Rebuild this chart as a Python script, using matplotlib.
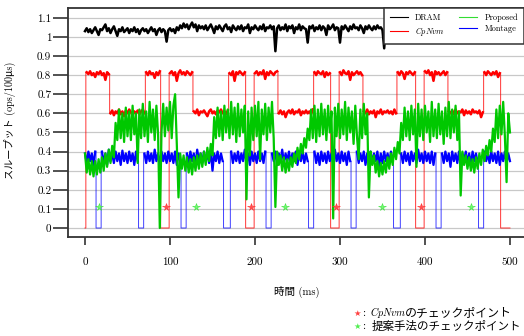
import numpy as np
import matplotlib
matplotlib.use("Agg")
import matplotlib.pyplot as plt
from matplotlib.lines import Line2D

plt.rcParams['font.family'] = ['cmr10', 'Noto Sans CJK JP', 'DejaVu Sans']
plt.rcParams['mathtext.fontset'] = 'cm'
plt.rcParams['axes.formatter.use_mathtext'] = True

# temps (ms), un échantillon toutes les 2 ms
temps = np.arange(0, 501, 2)

dram = [
    1.03, 1.045, 1.025, 1.04, 1.02, 1.035, 1.05, 1.03, 1.01, 1.04,
    1.035, 1.05, 1.065, 1.03, 1.045, 1.02, 1.04, 1.055, 1.03, 1.005,
    1.04, 1.03, 1.05, 1.025, 1.035, 1.045, 1.02, 1.04, 1.03, 1.05,
    1.025, 1.04, 1.015, 1.035, 1.045, 1.03, 1.04, 1.02, 1.035, 1.05,
    1.03, 1.04, 1.01, 1.035, 1.045, 1.025, 1.04, 1.03, 0.975, 1.035,
    1.045, 1.03, 1.04, 1.02, 1.05, 1.035, 1.06, 1.045, 1.07, 1.05,
    1.065, 1.04, 1.06, 1.075, 1.05, 1.065, 1.03, 1.06, 1.045, 1.055,
    1.04, 1.06, 1.035, 1.05, 1.065, 1.045, 1.02, 1.055, 1.04, 1.06,
    1.045, 1.03, 1.055, 1.065, 1.04, 1.05, 1.025, 1.06, 1.045, 1.035,
    1.055, 1.04, 1.06, 1.03, 1.05, 1.045, 1.065, 1.02, 1.05, 1.04,
    1.06, 1.045, 1.035, 1.055, 1.04, 1.065, 1.03, 1.05, 1.045, 1.06,
    1.04, 1.055, 0.925, 1.045, 1.06, 1.035, 1.05, 1.04, 1.065, 1.03,
    1.055, 1.045, 1.06, 1.02, 1.05, 1.04, 1.065, 1.035, 1.055, 1.045,
    1.04, 0.97, 1.055, 1.045, 1.06, 1.03, 1.05, 1.04, 1.06, 1.035,
    1.055, 1.045, 1.01, 1.06, 1.04, 1.05, 1.065, 1.035, 1.05, 1.045,
    0.97, 1.055, 1.04, 1.06, 1.045, 1.03, 1.055, 1.04, 1.065, 1.045,
    1.05, 1.035, 1.06, 1.045, 1.02, 1.055, 1.04, 1.06, 1.045, 1.035,
    1.055, 1.04, 1.06, 1.045, 1.05, 1.035, 0.94, 1.05, 1.04, 1.055,
    1.045, 1.06, 1.035, 1.05, 1.04, 1.065, 1.03, 1.055, 1.045, 1.06,
    1.04, 1.05, 1.035, 1.06, 1.045, 1.02, 1.055, 1.04, 1.06, 1.045,
    1.035, 1.055, 1.045, 1.06, 1.03, 1.05, 1.04, 1.065, 1.045, 1.035,
    1.055, 1.04, 1.06, 1.045, 1.05, 1.03, 1.055, 1.04, 1.06, 1.045,
    1.05, 1.035, 1.06, 1.045, 1.025, 1.055, 1.04, 1.06, 1.045, 1.05,
    1.04, 1.06, 1.035, 1.05, 1.045, 1.065, 1.03, 1.055, 1.04, 1.05,
    1.045, 1.06, 1.035, 1.055, 1.04, 1.05, 1.065, 1.035, 1.05, 1.045,
    1.04,
]

cpnvm = [
    0.0, 0.815, 0.805, 0.82, 0.80, 0.81, 0.79, 0.815, 0.805, 0.82,
    0.80, 0.81, 0.775, 0.815, 0.805, 0.60, 0.615, 0.59, 0.61, 0.60,
    0.62, 0.595, 0.61, 0.585, 0.615, 0.60, 0.62, 0.605, 0.59, 0.61,
    0.60, 0.615, 0.595, 0.61, 0.62, 0.60, 0.815, 0.80, 0.82, 0.805,
    0.81, 0.785, 0.815, 0.80, 0.82, 0.0, 0.0, 0.0, 0.0, 0.0,
    0.81, 0.82, 0.80, 0.815, 0.77, 0.81, 0.825, 0.805, 0.815, 0.80,
    0.82, 0.81, 0.80, 0.815, 0.61, 0.60, 0.62, 0.59, 0.61, 0.605,
    0.615, 0.60, 0.585, 0.61, 0.62, 0.60, 0.61, 0.595, 0.615, 0.605,
    0.62, 0.60, 0.61, 0.595, 0.615, 0.81, 0.80, 0.82, 0.77, 0.815,
    0.805, 0.82, 0.81, 0.80, 0.815, 0.0, 0.0, 0.0, 0.0, 0.0,
    0.81, 0.82, 0.80, 0.815, 0.805, 0.825, 0.78, 0.815, 0.80, 0.82,
    0.81, 0.80, 0.815, 0.82, 0.60, 0.615, 0.595, 0.61, 0.58, 0.605,
    0.615, 0.60, 0.62, 0.595, 0.61, 0.605, 0.62, 0.59, 0.61, 0.60,
    0.615, 0.60, 0.61, 0.595, 0.62, 0.815, 0.80, 0.82, 0.81, 0.805,
    0.82, 0.79, 0.815, 0.80, 0.81, 0.0, 0.0, 0.0, 0.0, 0.0,
    0.815, 0.80, 0.825, 0.81, 0.805, 0.82, 0.775, 0.815, 0.80, 0.81,
    0.82, 0.805, 0.815, 0.80, 0.61, 0.60, 0.62, 0.595, 0.61, 0.60,
    0.615, 0.58, 0.61, 0.60, 0.62, 0.595, 0.61, 0.605, 0.615, 0.60,
    0.61, 0.595, 0.62, 0.60, 0.815, 0.80, 0.82, 0.81, 0.78, 0.815,
    0.805, 0.82, 0.81, 0.80, 0.815, 0.0, 0.0, 0.0, 0.0, 0.0,
    0.82, 0.81, 0.825, 0.80, 0.815, 0.77, 0.82, 0.805, 0.815, 0.80,
    0.81, 0.82, 0.80, 0.815, 0.61, 0.60, 0.615, 0.595, 0.62, 0.60,
    0.61, 0.605, 0.62, 0.59, 0.615, 0.60, 0.61, 0.595, 0.62, 0.605,
    0.61, 0.60, 0.615, 0.58, 0.605, 0.815, 0.80, 0.82, 0.81, 0.80,
    0.815, 0.805, 0.82, 0.79, 0.81, 0.0, 0.0, 0.0, 0.0, 0.0,
    0.0,
]
# instants des sauts (ms) de CpNvm
cpnvm_sauts = [1, 29, 71, 89, 99, 127, 169, 189, 199, 227, 269, 289, 299,
               327, 367, 389, 399, 427, 469, 489]

proposed = [
    0.39, 0.29, 0.36, 0.28, 0.35, 0.27, 0.35, 0.28, 0.36, 0.29,
    0.37, 0.30, 0.39, 0.32, 0.41, 0.34, 0.43, 0.37, 0.55, 0.46,
    0.62, 0.47, 0.60, 0.45, 0.63, 0.48, 0.61, 0.46, 0.64, 0.49,
    0.60, 0.34, 0.62, 0.47, 0.65, 0.48, 0.61, 0.45, 0.66, 0.50,
    0.62, 0.46, 0.64, 0.49, 0.0, 0.50, 0.65, 0.48, 0.63, 0.51,
    0.66, 0.47, 0.64, 0.70, 0.44, 0.16, 0.39, 0.31, 0.38, 0.30,
    0.37, 0.29, 0.36, 0.28, 0.37, 0.30, 0.38, 0.31, 0.39, 0.32,
    0.40, 0.33, 0.42, 0.35, 0.44, 0.38, 0.58, 0.47, 0.63, 0.48,
    0.61, 0.46, 0.64, 0.50, 0.62, 0.47, 0.66, 0.49, 0.63, 0.45,
    0.65, 0.48, 0.62, 0.50, 0.64, 0.15, 0.61, 0.38, 0.63, 0.46,
    0.64, 0.48, 0.66, 0.36, 0.62, 0.49, 0.65, 0.46, 0.63, 0.50,
    0.66, 0.47, 0.11, 0.40, 0.33, 0.38, 0.30, 0.37, 0.29, 0.36,
    0.30, 0.37, 0.32, 0.39, 0.34, 0.42, 0.36, 0.44, 0.39, 0.47,
    0.42, 0.52, 0.46, 0.62, 0.47, 0.64, 0.45, 0.62, 0.48, 0.65,
    0.49, 0.62, 0.46, 0.64, 0.50, 0.61, 0.05, 0.63, 0.48, 0.65,
    0.47, 0.62, 0.49, 0.66, 0.46, 0.63, 0.50, 0.61, 0.44, 0.64,
    0.48, 0.36, 0.62, 0.47, 0.65, 0.49, 0.60, 0.16, 0.40, 0.33,
    0.38, 0.29, 0.35, 0.27, 0.34, 0.28, 0.35, 0.29, 0.37, 0.31,
    0.39, 0.33, 0.42, 0.36, 0.45, 0.39, 0.55, 0.46, 0.63, 0.48,
    0.61, 0.46, 0.64, 0.49, 0.62, 0.32, 0.65, 0.48, 0.62, 0.46,
    0.64, 0.50, 0.61, 0.45, 0.66, 0.48, 0.62, 0.47, 0.65, 0.49,
    0.61, 0.44, 0.63, 0.48, 0.66, 0.47, 0.62, 0.50, 0.64, 0.46,
    0.61, 0.17, 0.40, 0.33, 0.38, 0.31, 0.37, 0.30, 0.36, 0.29,
    0.37, 0.31, 0.39, 0.33, 0.41, 0.35, 0.43, 0.38, 0.46, 0.40,
    0.52, 0.45, 0.62, 0.47, 0.64, 0.49, 0.66, 0.48, 0.24, 0.60,
    0.50,
]

montage = [
    0.39, 0.34, 0.40, 0.35, 0.39, 0.33, 0.40, 0.0, 0.0, 0.0,
    0.40, 0.34, 0.39, 0.33, 0.41, 0.35, 0.39, 0.34, 0.40, 0.35,
    0.39, 0.33, 0.405, 0.35, 0.39, 0.34, 0.40, 0.35, 0.39, 0.33,
    0.40, 0.35, 0.0, 0.0, 0.0, 0.39, 0.34, 0.40, 0.35, 0.39,
    0.34, 0.41, 0.35, 0.39, 0.33, 0.40, 0.35, 0.39, 0.34, 0.40,
    0.35, 0.39, 0.34, 0.40, 0.33, 0.39, 0.35, 0.0, 0.0, 0.0,
    0.39, 0.34, 0.40, 0.35, 0.39, 0.33, 0.41, 0.35, 0.39, 0.34,
    0.40, 0.35, 0.39, 0.34, 0.40, 0.30, 0.39, 0.35, 0.40, 0.34,
    0.39, 0.35, 0.0, 0.0, 0.0, 0.0, 0.40, 0.34, 0.39, 0.35,
    0.40, 0.34, 0.39, 0.35, 0.41, 0.34, 0.39, 0.33, 0.40, 0.35,
    0.39, 0.34, 0.40, 0.35, 0.39, 0.34, 0.40, 0.0, 0.0, 0.0,
    0.39, 0.35, 0.40, 0.33, 0.39, 0.35, 0.41, 0.34, 0.39, 0.35,
    0.40, 0.34, 0.39, 0.35, 0.40, 0.33, 0.39, 0.35, 0.40, 0.34,
    0.39, 0.35, 0.0, 0.0, 0.0, 0.40, 0.34, 0.39, 0.33, 0.40,
    0.35, 0.39, 0.34, 0.40, 0.35, 0.39, 0.34, 0.41, 0.35, 0.39,
    0.34, 0.40, 0.35, 0.39, 0.33, 0.40, 0.35, 0.0, 0.0, 0.0,
    0.40, 0.34, 0.39, 0.35, 0.40, 0.33, 0.39, 0.35, 0.40, 0.34,
    0.39, 0.35, 0.40, 0.32, 0.39, 0.34, 0.40, 0.35, 0.39, 0.34,
    0.40, 0.35, 0.0, 0.0, 0.0, 0.0, 0.39, 0.34, 0.40, 0.35,
    0.39, 0.33, 0.40, 0.35, 0.39, 0.34, 0.41, 0.35, 0.39, 0.34,
    0.40, 0.35, 0.39, 0.34, 0.40, 0.33, 0.39, 0.0, 0.0, 0.0,
    0.39, 0.34, 0.40, 0.35, 0.39, 0.32, 0.40, 0.35, 0.39, 0.34,
    0.40, 0.33, 0.39, 0.35, 0.40, 0.34, 0.39, 0.33, 0.40, 0.35,
    0.39, 0.34, 0.0, 0.0, 0.0, 0.40, 0.35, 0.39, 0.34, 0.40,
    0.35, 0.39, 0.34, 0.40, 0.33, 0.39, 0.35, 0.40, 0.34, 0.39,
    0.35,
]
# débuts / fins des checkpoints de Montage (ms)
montage_sauts = [13, 19, 63, 69, 113, 119, 163, 171, 213, 219, 263, 269,
                 313, 319, 363, 371, 413, 419, 463, 469]

# étoiles : instants des checkpoints
etoiles_cpnvm = [95, 195, 295, 395]
etoiles_proposed = [16, 131, 235, 349, 454]
hauteur_etoiles = 0.11

yticks = [0, 0.1, 0.2, 0.3, 0.4, 0.5, 0.6, 0.7, 0.8, 0.9, 1.0, 1.1]
xticks = [0, 100, 200, 300, 400, 500]


def avec_sauts(t, vals, sauts):
    """Trace complet (avec segments verticaux aux sauts) et trace 'bande'
    (coupé aux sauts et pendant les checkpoints)."""
    xs, ys, xb, yb = [], [], [], []
    j = 0
    for i in range(len(t)):
        while j < len(sauts) and sauts[j] < t[i]:
            xs += [sauts[j], sauts[j]]
            ys += [vals[i - 1], vals[i]]
            xb.append(sauts[j])
            yb.append(np.nan)
            j += 1
        xs.append(t[i])
        ys.append(vals[i])
        xb.append(t[i])
        yb.append(vals[i] if vals[i] > 0 else np.nan)
    return xs, ys, xb, yb


assert len(dram) == len(temps) == len(cpnvm) == len(proposed) == len(montage)

W, H = 524, 336
fig = plt.figure(figsize=(W / 100, H / 100), dpi=100)
ax = fig.add_axes([68 / W, 1 - 237 / H, (W - 68) / W, (237 - 8) / H])

ax.plot(temps, dram, color="black", lw=1.8, zorder=3)

x, y, xb, yb = avec_sauts(temps, cpnvm, cpnvm_sauts)
ax.plot(x, y, color="#ff0000", lw=0.7, alpha=0.8, zorder=3)
ax.plot(xb, yb, color="#ff0000", lw=1.8, zorder=3)

x, y, xb, yb = avec_sauts(temps, montage, montage_sauts)
ax.plot(x, y, color="#0000ff", lw=0.7, alpha=0.75, zorder=4)
ax.plot(xb, yb, color="#0000ff", lw=1.6, zorder=4)

ax.plot(temps, proposed, color="#00c800", lw=1.6, zorder=5)

ax.plot(etoiles_cpnvm, [hauteur_etoiles] * len(etoiles_cpnvm), ls="none",
        marker="*", ms=5.5, color="#ff5050", mec="#ff3030", mew=0.4, zorder=6)
ax.plot(etoiles_proposed, [hauteur_etoiles] * len(etoiles_proposed), ls="none",
        marker="*", ms=5.5, color="#70ff70", mec="#40e040", mew=0.4, zorder=6)

ax.set_xlim(-20, 516.5)
ax.set_ylim(-0.047, 1.151)
ax.set_xticks(xticks)
ax.set_xticklabels([str(v) for v in xticks], fontsize=8)
ax.set_yticks(yticks)
ax.set_yticklabels(["%g" % v for v in yticks], fontsize=8)
ax.tick_params(axis="x", direction="out", length=5.8, width=1.1, pad=9, color="#222222")
ax.tick_params(axis="y", direction="out", length=10.5, width=1.1, pad=1.5, color="#222222")
ax.grid(axis="y", color="#c8c8c8", lw=0.9, zorder=0)
ax.set_axisbelow(True)
for cote in ["left", "top", "bottom"]:
    ax.spines[cote].set_color("#333333")
    ax.spines[cote].set_linewidth(1.3)
ax.spines["right"].set_visible(False)

# légende
poignees = [
    Line2D([], [], color="black", lw=0.8),
    Line2D([], [], color="#ff0000", lw=0.8),
    Line2D([], [], color="#33dd33", lw=0.8),
    Line2D([], [], color="#0000ff", lw=0.8),
]
noms = ["DRAM", "$CpNvm$", "Proposed", "Montage"]
leg = ax.legend(poignees, noms, ncol=2, loc="upper right", bbox_to_anchor=(1.0, 1.0),
                borderaxespad=0, fontsize=6, fancybox=False, framealpha=1,
                edgecolor="#333333", handlelength=2.2, columnspacing=1.7,
                handletextpad=0.85, labelspacing=0.3, borderpad=0.7)
leg.get_frame().set_linewidth(1.1)
leg.set_zorder(10)

# titres des axes
fig.text(10 / W, 1 - 120 / H, "スループット (ops/100μs)", rotation=90,
         ha="center", va="center", fontsize=7.3)
fig.text(297 / W, 1 - 292 / H, "時間 (ms)", ha="center", va="center", fontsize=7.6)

# notes en bas à droite
for yp, couleur in [(313, "#ff4040"), (326, "#50ee50")]:
    fig.text(357 / W, 1 - yp / H, "★", color=couleur, ha="center", va="center",
             fontsize=6, family="DejaVu Sans")
    fig.text(362 / W, 1 - yp / H, ":", ha="left", va="center", fontsize=8)
fig.text(370 / W, 1 - 313 / H, "$CpNvm$", ha="left", va="center", fontsize=7.4)
fig.text(405 / W, 1 - 313 / H, "のチェックポイント", ha="left", va="center",
         fontsize=8.6, family="Noto Sans CJK JP")
fig.text(372 / W, 1 - 326 / H, "提案手法のチェックポイント", ha="left", va="center",
         fontsize=8.3, family="Noto Sans CJK JP")

fig.savefig("out.png", dpi=100)
